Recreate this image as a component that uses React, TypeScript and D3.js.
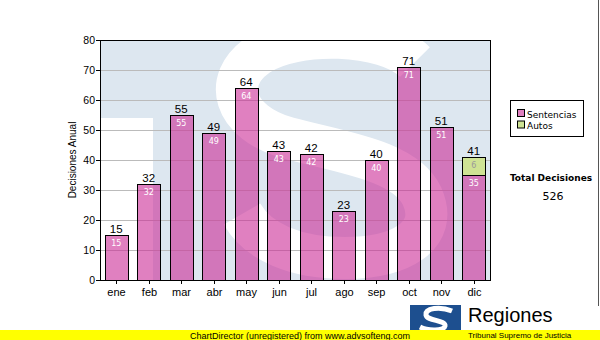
import React from "react";
import * as d3 from "d3";

const months = ["ene", "feb", "mar", "abr", "may", "jun", "jul", "ago", "sep", "oct", "nov", "dic"];
const sentencias = [15, 32, 55, 49, 64, 43, 42, 23, 40, 71, 51, 35];
const autos = [0, 0, 0, 0, 0, 0, 0, 0, 0, 0, 0, 6];
const yTicks = [0, 10, 20, 30, 40, 50, 60, 70, 80];
const seriesNames = ["Sentencias", "Autos"];
const totalLabel = "Total Decisiones";

const W = 600;
const H = 340;
const plot = { left: 100, right: 490, top: 40, bottom: 280 };

const pink = "rgb(203,43,150)";
const green = "#cfe394";

export default function App() {
  const x = d3.scaleBand<string>().domain(months).range([plot.left, plot.right]).paddingInner(0.28).paddingOuter(0.14);
  const y = d3.scaleLinear().domain([0, 80]).range([plot.bottom, plot.top]);

  const rows = months.map((m, i) => ({ month: m, sentencias: sentencias[i], autos: autos[i] }));
  const stack = d3.stack<any>().keys(["sentencias", "autos"])(rows);
  const total = d3.sum(sentencias) + d3.sum(autos);

  const arial = "'Liberation Sans', Arial, sans-serif";
  const verdana = "'DejaVu Sans', Verdana, sans-serif";

  return (
    <svg width={W} height={H} style={{ position: "absolute", left: 0, top: 0 }}>
      <rect width={W} height={H} fill="#fff" />
      <defs>
        <clipPath id="plotClip">
          <rect x={plot.left} y={plot.top} width={plot.right - plot.left} height={plot.bottom - plot.top} />
        </clipPath>
      </defs>

      {/* watermark background */}
      <g clipPath="url(#plotClip)">
        <rect x={plot.left} y={plot.top} width={plot.right - plot.left} height={plot.bottom - plot.top} fill="#dde7f0" />
        <rect x={plot.left} y={118} width={53} height={170} fill="#fff" />
        <path
          d="M 415 62 C 385 32, 295 30, 258 55 C 222 80, 232 122, 288 138 C 340 152, 405 160, 422 196 C 440 236, 400 258, 345 258 C 295 258, 258 242, 242 214"
          fill="none"
          stroke="#fff"
          strokeWidth={42}
        />
      </g>

      {/* grid */}
      {yTicks.filter(t => t > 0 && t < 80).map(t => (
        <line key={t} x1={plot.left} x2={plot.right} y1={y(t) + 0.5} y2={y(t) + 0.5} stroke="#bbbbbb" />
      ))}

      {/* bars */}
      {stack.map((layer, li) => (
        <g key={li}>
          {layer.map((d, i) => {
            const v = d[1] - d[0];
            if (v <= 0) return null;
            const bx = x(months[i]) as number;
            return (
              <g key={i}>
                <rect
                  x={Math.round(bx) + 0.5}
                  y={Math.round(y(d[1])) + 0.5}
                  width={Math.round(x.bandwidth())}
                  height={Math.round(y(d[0])) - Math.round(y(d[1]))}
                  fill={li === 0 ? pink : green}
                  fillOpacity={li === 0 ? 0.6 : 1}
                  stroke="#000"
                />
                <text
                  x={bx + x.bandwidth() / 2}
                  y={y(d[1]) + 11}
                  textAnchor="middle"
                  fontFamily={verdana}
                  fontSize={8}
                  fill={li === 0 ? "#fff" : "#9a9a9a"}
                >
                  {v}
                </text>
              </g>
            );
          })}
        </g>
      ))}

      {/* totals on top */}
      {months.map((m, i) => {
        const t = sentencias[i] + autos[i];
        return (
          <text key={m} x={(x(m) as number) + x.bandwidth() / 2} y={y(t) - 2.5} textAnchor="middle" fontFamily={arial} fontSize={11.5} fill="#000">
            {t}
          </text>
        );
      })}

      {/* frame and axes */}
      <rect x={plot.left + 0.5} y={plot.top + 0.5} width={plot.right - plot.left} height={plot.bottom - plot.top} fill="none" stroke="#000" />
      {yTicks.map(t => (
        <g key={t}>
          <line x1={plot.left - 4} x2={plot.left} y1={y(t) + 0.5} y2={y(t) + 0.5} stroke="#000" />
          <text x={plot.left - 5} y={y(t) + 4} textAnchor="end" fontFamily={arial} fontSize={10.5} fill="#000">
            {t}
          </text>
        </g>
      ))}
      {months.map(m => {
        const cx = Math.round((x(m) as number) + x.bandwidth() / 2) + 0.5;
        return (
          <g key={m}>
            <line x1={cx} x2={cx} y1={plot.bottom} y2={plot.bottom + 4} stroke="#000" />
            <text x={cx} y={plot.bottom + 16} textAnchor="middle" fontFamily={arial} fontSize={11} fill="#000">
              {m}
            </text>
          </g>
        );
      })}
      <text
        transform={`translate(76,${(plot.top + plot.bottom) / 2}) rotate(-90)`}
        textAnchor="middle"
        fontFamily={arial}
        fontSize={10}
        fill="#000"
      >
        Decisiones Anual
      </text>

      {/* legend */}
      <rect x={510.5} y={100.5} width={73} height={36} fill="#fff" stroke="#000" />
      {seriesNames.map((s, i) => (
        <g key={s}>
          <rect x={517.5} y={109.5 + i * 11.5} width={7} height={7} fill={i === 0 ? "#e080c0" : green} stroke="#000" />
          <text x={527} y={117.5 + i * 11.5} fontFamily={verdana} fontSize={9} fill="#000">
            {s}
          </text>
        </g>
      ))}

      <text x={551} y={181} textAnchor="middle" fontFamily={verdana} fontSize={9} fontWeight="bold" fill="#000">
        {totalLabel}
      </text>
      <text x={553} y={200} textAnchor="middle" fontFamily={verdana} fontSize={11} fill="#000">
        {total}
      </text>

      <line x1={598.5} x2={598.5} y1={0} y2={306} stroke="#555" />

      {/* logo */}
      <rect x={410} y={305} width={51} height={26} fill="#1d4f8f" />
      <path d="M 452 311 C 440 306, 425 308, 426 315 C 427 321, 446 320, 445 326 C 444 331, 428 331, 420 327" fill="none" stroke="#fff" strokeWidth={5} />
      <text x={468} y={322} fontFamily={arial} fontSize={20} fill="#000">
        Regiones
      </text>

      {/* footer bar */}
      <rect x={0} y={330} width={W} height={10} fill="#ffff00" />
      <text x={300} y={338.5} textAnchor="middle" fontFamily={arial} fontSize={9} fill="#000">
        ChartDirector (unregistered) from www.advsofteng.com
      </text>
      <text x={468} y={337.5} fontFamily={arial} fontSize={8} fill="#000">
        Tribunal Supremo de Justicia
      </text>
    </svg>
  );
}
